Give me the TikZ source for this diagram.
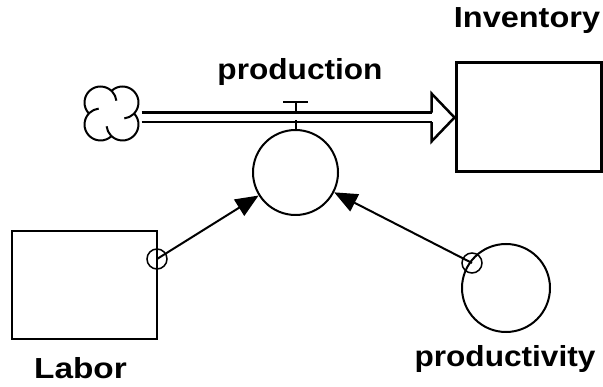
\documentclass[tikz,border=0pt]{standalone}
\usepackage{fontspec}
\setmainfont{Liberation Sans}
\usetikzlibrary{arrows.meta,calc}
\begin{document}
\begin{tikzpicture}[x=1pt,y=-1pt,
  lbl/.style={font=\bfseries\fontsize{29}{29}\selectfont, anchor=base, inner sep=0pt},
  stock/.style={draw, rectangle, inner sep=0pt},
  auxv/.style={draw, circle, inner sep=0pt, line width=2pt},
  port/.style={draw, circle, inner sep=0pt, minimum size=20pt, line width=1.5pt},
  conn/.style={line width=2pt, -{Triangle[length=23pt,width=19pt]}},
  pipe/.style={line width=2.5pt},
]
\useasboundingbox (0,0) rectangle (603,387);

% stocks
\node[stock, line width=3pt, minimum width=145pt, minimum height=109pt] (inv) at (528.5,117.5) {};
\node[stock, line width=2pt, minimum width=145pt, minimum height=108pt] (labor) at (84.5,285) {};

% auxiliaries
\node[auxv, minimum size=85pt] (aux) at (295.5,172.5) {};
\node[auxv, minimum size=88pt] (prodv) at (506,288) {};

% ports
\node[port] (lport) at (157,259) {};
\node[port] (pport) at (472,263) {};

% cloud
\node[inner sep=0pt, minimum size=54pt] (cloud) at (111.5,113.5) {};
\begin{scope}[line width=2pt]
  \draw ($(cloud.center)+(11,-11)$) ++(-133.5:16) arc[start angle=-133.5, end angle=83.5, radius=16];
  \draw ($(cloud.center)+(11,11)$) ++(-43.5:16) arc[start angle=-43.5, end angle=173.5, radius=16];
  \draw ($(cloud.center)+(-11,11)$) ++(46.5:16) arc[start angle=46.5, end angle=263.5, radius=16];
  \draw ($(cloud.center)+(-11,-11)$) ++(136.5:16) arc[start angle=136.5, end angle=353.5, radius=16];
\end{scope}

% pipe with hollow arrowhead
\coordinate (pa) at ($(cloud.east)+(3,0)$);
\coordinate (pt) at ($(inv.west)+(-23,-4.75)$);
\coordinate (pb) at ($(inv.west)+(-23,4.75)$);
\draw[pipe] (pa |- pt) -- (pt);
\draw[pipe] (pa |- pb) -- (pb);
\draw[pipe, line join=miter] (pt) -- ($(inv.west)+(-23,-24)$) -- (inv.west)
   -- ($(inv.west)+(-23,24)$) -- (pb);

% valve
\draw[line width=2pt] (aux.north) -- ($(aux.north)+(0,-8.5)$);
\draw[line width=2pt] ($(aux.north)+(0,-18)$) -- ($(aux.north)+(0,-27)$);
\draw[line width=2pt] ($(aux.north)+(-12.5,-27)$) -- ($(aux.north)+(12.5,-27)$);

% connectors
\draw[conn] (lport.center) -- (aux);
\draw[conn] (pport.center) -- (aux);

% labels
\node[lbl] (tinv) at (527,28) {\scalebox{1.12}[1]{Inventory}};
\node[lbl] (tprod) at (300,80) {\scalebox{1.09}[1]{production}};
\node[lbl] (tlab) at (80.5,379) {\scalebox{1.15}[1]{Labor}};
\node[lbl] (tpv) at (505,367) {\scalebox{1.09}[1]{productivity}};
\end{tikzpicture}
\end{document}
